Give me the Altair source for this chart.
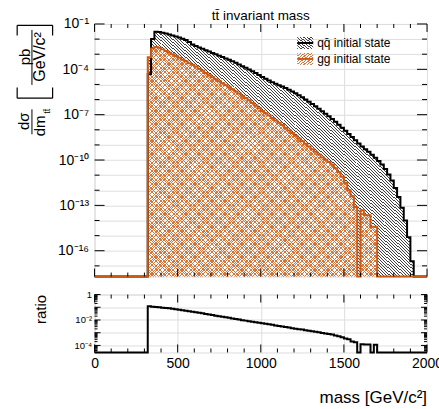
import altair as alt
import pandas as pd

FONT = "Liberation Sans"

# ---------------- data (log10 of bin contents, 20 GeV bins starting at 320 GeV) ----
BIN_WIDTH = 20
FIRST_BIN = 320
qq_log = [-4.33, -2.00, -1.52, -1.53, -1.58, -1.63, -1.69, -1.76, -1.83, -1.90,
          -1.98, -2.06, -2.20, -2.36, -2.45, -2.55, -2.64, -2.73, -2.82, -2.92,
          -3.01, -3.10, -3.19, -3.28, -3.37, -3.47, -3.57, -3.68, -3.79, -3.90,
          -4.01, -4.12, -4.24, -4.37, -4.50, -4.62, -4.74, -4.86, -4.96, -5.05,
          -5.14, -5.24, -5.35, -5.47, -5.59, -5.71, -5.85, -5.99, -6.14, -6.29,
          -6.44, -6.60, -6.77, -6.94, -7.11, -7.29, -7.47, -7.66, -7.87, -8.07,
          -8.27, -8.48, -8.69, -8.90, -9.10, -9.28, -9.46, -9.65, -9.85, -10.06,
          -10.30, -10.60, -10.95, -11.35, -11.85, -12.45, -13.15, -14.00, -15.10, -16.70]
gg_log = [-3.20, -2.62, -2.53, -2.58, -2.68, -2.79, -2.90, -3.01, -3.12, -3.23,
          -3.35, -3.47, -3.59, -3.70, -3.82, -3.96, -4.10, -4.24, -4.39, -4.53,
          -4.66, -4.79, -4.92, -5.05, -5.18, -5.31, -5.46, -5.60, -5.75, -5.90,
          -6.05, -6.22, -6.40, -6.58, -6.75, -6.90, -7.05, -7.22, -7.38, -7.53,
          -7.68, -7.86, -8.04, -8.22, -8.40, -8.58, -8.76, -8.93, -9.10, -9.28,
          -9.46, -9.64, -9.83, -9.98, -10.13, -10.30, -10.55, -10.80, -11.10, -11.50,
          -12.00, -12.40, -13.10, None, -13.32, -13.65, -13.65, -14.42, -14.42]
ratio_log = [-0.92, -0.96, -0.98, -1.00, -1.03, -1.05, -1.08, -1.12, -1.15, -1.19,
             -1.23, -1.27, -1.31, -1.36, -1.40, -1.44, -1.48, -1.52, -1.57, -1.61,
             -1.66, -1.70, -1.74, -1.79, -1.83, -1.88, -1.92, -1.97, -2.02, -2.05,
             -2.09, -2.13, -2.17, -2.22, -2.26, -2.30, -2.34, -2.38, -2.43, -2.47,
             -2.52, -2.56, -2.60, -2.64, -2.69, -2.72, -2.75, -2.80, -2.84, -2.88,
             -2.93, -2.97, -3.02, -3.06, -3.10, -3.14, -3.22, -3.28, -3.35, -3.45,
             -3.52, -3.70, -3.75, None, -3.90, -3.92, -3.92, None, -3.95]

x_tick_labels = [0, 500, 1000, 1500, 2000]
top_label_exps = [-1, -4, -7, -10, -13, -16]
top_decades = list(range(-17, 0))
ratio_label_exps = [0, -2, -4]
ratio_decades = [0, -1, -2, -3, -4]
ratio_minor_mult = [2, 3, 4, 5, 6, 7, 8, 9]
x_minor_ticks = [100, 200, 300, 400, 600, 700, 800, 900, 1100, 1200, 1300, 1400,
                 1600, 1700, 1800, 1900]

X_DOMAIN = [0, 2000]
TOP_DOMAIN = [1.95e-18, 1e-1]
RATIO_DOMAIN = [2.8e-5, 1.0]

W, H_TOP, H_RAT = 333, 253, 58
BLACK = "#000000"
ORANGE = "#cc5a14"
HATCH_ORANGE = "#d2763c"
HATCH_BLACK = "#404040"
GRID = "#dedede"
CLEAR = "rgba(255,255,255,0)"

SUP = str.maketrans("-0123456789", "⁻⁰¹²³⁴⁵⁶⁷⁸⁹")


def pow_label(e):
    return "1" if e == 0 else "10" + str(e).translate(SUP)


def label_expr(exps):
    expr = "''"
    for e in exps:
        expr = f"round(log(datum.value)/LN10) == {e} ? '{pow_label(e)}' : ({expr})"
    return expr


def vals(logs, floor, n=None):
    v = [10 ** x if x is not None else floor for x in logs]
    if n is not None:
        v = v + [floor] * (n - len(v))
    return v


def outline_df(logs, floor):
    v = vals(logs, floor)
    xs = [X_DOMAIN[0]] + [FIRST_BIN + i * BIN_WIDTH for i in range(len(v))] + \
         [FIRST_BIN + len(v) * BIN_WIDTH, X_DOMAIN[1]]
    ys = [floor] + v + [floor, floor]
    return pd.DataFrame({"x": xs, "y": ys})


def area_df(logs, floor, lower=None):
    v = vals(logs, floor)
    lo = vals(lower, floor, len(v)) if lower is not None else [floor] * len(v)
    xs = [FIRST_BIN + i * BIN_WIDTH for i in range(len(v) + 1)]
    return pd.DataFrame({"x": xs, "y": v + [v[-1]], "y2": lo + [lo[-1]]})


def hatch(color, n, frac, slope):
    stops = []
    for i in range(n):
        a, b, c = i / n, (i + frac) / n, (i + 1) / n
        stops += [{"offset": a, "color": color}, {"offset": b, "color": color},
                  {"offset": b, "color": CLEAR}, {"offset": c, "color": CLEAR}]
    if slope == "\\":
        x1, y1, x2, y2 = 0, 1, 1, 0
    else:
        x1, y1, x2, y2 = 0, 0, 1, 1
    return {"gradient": "linear", "x1": x1, "y1": y1, "x2": x2, "y2": y2, "stops": stops}


ONE = pd.DataFrame({"k": [0]})


def text(t, x, y, size, angle=0, align="center", baseline="middle", color=BLACK):
    kw = dict(text=t, font=FONT, fontSize=size, align=align, baseline=baseline, color=color)
    if angle:
        kw["angle"] = angle
    return alt.Chart(ONE).mark_text(**kw).encode(x=alt.value(x), y=alt.value(y))


def seg(x, x2, y, y2, color=BLACK, width=1.0, opacity=1.0):
    return alt.Chart(ONE).mark_rule(color=color, strokeWidth=width, strokeOpacity=opacity).encode(
        x=alt.value(x), x2=alt.value(x2), y=alt.value(y), y2=alt.value(y2))


# ---------------- shared encodings ----------------
x_top = alt.X("x:Q", scale=alt.Scale(domain=X_DOMAIN, nice=False, zero=False),
              axis=alt.Axis(values=x_tick_labels, labels=False, ticks=False, domain=False,
                            grid=True, gridColor=GRID, title=None))
y_scale_top = alt.Scale(type="log", domain=TOP_DOMAIN, nice=False, clamp=True)
y_top = alt.Y("y:Q", scale=y_scale_top,
              axis=alt.Axis(values=[10.0 ** e for e in top_decades], labelExpr=label_expr(top_label_exps),
                            ticks=False, domain=False, grid=True, gridColor=GRID, title=None,
                            labelFont=FONT, labelFontSize=14, labelColor=BLACK, labelPadding=6,
                            labelOverlap=False, labelBound=False))

x_rat = alt.X("x:Q", scale=alt.Scale(domain=X_DOMAIN, nice=False, zero=False),
              axis=alt.Axis(values=x_tick_labels, ticks=False, domain=False, grid=True, gridColor=GRID,
                            title=None, labelFont=FONT, labelFontSize=14, labelColor=BLACK,
                            labelPadding=4, labelFlush=False, labelOverlap=False, format="d"))
y_rat = alt.Y("y:Q", scale=alt.Scale(type="log", domain=RATIO_DOMAIN, nice=False, clamp=True),
              axis=alt.Axis(values=[10.0 ** e for e in ratio_decades], labelExpr=label_expr(ratio_label_exps),
                            ticks=False, domain=False, grid=True, gridColor=GRID, title=None,
                            labelFont=FONT, labelFontSize=9.5, labelColor=BLACK, labelPadding=3,
                            labelOverlap=False, labelBound=False))

floor_top = TOP_DOMAIN[0]
floor_rat = RATIO_DOMAIN[0]

# ---------------- top panel ----------------
# qq hatch only between the qq and gg curves; gg crosshatch below the gg curve
qq_area = alt.Chart(area_df(qq_log, floor_top, gg_log)).mark_area(
    interpolate="step-after", fill=hatch(HATCH_BLACK, 162, 0.33, "\\"), strokeWidth=0
).encode(x=x_top, y=y_top, y2="y2:Q")
gg_area1 = alt.Chart(area_df(gg_log, floor_top)).mark_area(
    interpolate="step-after", fill=hatch(HATCH_ORANGE, 176, 0.3, "\\"), strokeWidth=0
).encode(x=x_top, y=y_top, y2=alt.value(H_TOP))
gg_area2 = alt.Chart(area_df(gg_log, floor_top)).mark_area(
    interpolate="step-after", fill=hatch(HATCH_ORANGE, 176, 0.3, "/"), strokeWidth=0
).encode(x=x_top, y=y_top, y2=alt.value(H_TOP))

qq_line = alt.Chart(outline_df(qq_log, floor_top)).mark_line(
    interpolate="step-after", color=BLACK, strokeWidth=2).encode(x=x_top, y=y_top)
gg_line = alt.Chart(outline_df(gg_log, floor_top)).mark_line(
    interpolate="step-after", color=ORANGE, strokeWidth=2).encode(x=x_top, y=y_top)

dec_major = pd.DataFrame({"y": [10.0 ** e for e in top_label_exps]})
dec_minor = pd.DataFrame({"y": [10.0 ** e for e in top_decades if e not in top_label_exps]})
xt_major = pd.DataFrame({"x": x_tick_labels})
xt_minor = pd.DataFrame({"x": x_minor_ticks})


def yticks(df, yenc, length):
    left = alt.Chart(df).mark_rule(color=BLACK, strokeWidth=1).encode(
        x=alt.value(0), x2=alt.value(length), y=yenc)
    right = alt.Chart(df).mark_rule(color=BLACK, strokeWidth=1).encode(
        x=alt.value(W), x2=alt.value(W - length), y=yenc)
    return [left, right]


def xticks(df, xenc, h, length):
    bottom = alt.Chart(df).mark_rule(color=BLACK, strokeWidth=1).encode(
        x=xenc, y=alt.value(h), y2=alt.value(h - length))
    top = alt.Chart(df).mark_rule(color=BLACK, strokeWidth=1).encode(
        x=xenc, y=alt.value(0), y2=alt.value(length))
    return [bottom, top]


top_ticks = (yticks(dec_major, y_top, 10) + yticks(dec_minor, y_top, 5) +
             xticks(xt_major, x_top, H_TOP, 8) + xticks(xt_minor, x_top, H_TOP, 4))

# legend
leg_qq_sw = alt.Chart(ONE).mark_rect(fill=hatch(HATCH_BLACK, 9, 0.4, "\\"), strokeWidth=0).encode(
    x=alt.value(203), x2=alt.value(219), y=alt.value(13), y2=alt.value(25))
leg_gg_sw = alt.Chart(ONE).mark_rect(fill=hatch(HATCH_ORANGE, 9, 0.4, "/"), strokeWidth=0).encode(
    x=alt.value(203), x2=alt.value(219), y=alt.value(29), y2=alt.value(41))
legend = [leg_qq_sw, leg_gg_sw,
          seg(203, 219, 19, 19, BLACK, 2), seg(203, 219, 35, 35, ORANGE, 2),
          text("qq\u0304 initial state", 223, 19, 12, align="left"),
          text("gg initial state", 223, 35.5, 12, align="left")]

# y title (two stacked fractions in brackets) and plot title
ytitle = [
    text("dσ", -70.5, 97.5, 15, angle=270),
    seg(-62.7, -62.7, 85.5, 110.5, BLACK, 1),
    text("dm", -55.0, 102, 15, angle=270),
    text("tt\u0304", -48.0, 87.5, 9, angle=270),
    seg(-77.5, -42.0, 74.3, 74.3, BLACK, 1.2),
    seg(-77.5, -77.5, 63.5, 74.3, BLACK, 1.2),
    seg(-42.0, -42.0, 63.5, 74.3, BLACK, 1.2),
    text("pb", -70.0, 33, 15, angle=270),
    seg(-62.7, -62.7, 6, 61, BLACK, 1),
    text("GeV/c²", -54.5, 33, 16, angle=270),
    seg(-77.5, -42.0, 1.3, 1.3, BLACK, 1.2),
    seg(-77.5, -77.5, 1.3, 11.5, BLACK, 1.2),
    seg(-42.0, -42.0, 1.3, 11.5, BLACK, 1.2),
    text("tt\u0304 invariant mass", W / 2, -8, 13.5),
    seg(-80, -80, -20, -19, BLACK, 1, 0),
]

top = alt.layer(qq_area, gg_area1, gg_area2, qq_line, gg_line, *top_ticks, *legend, *ytitle).properties(
    width=W, height=H_TOP)

# ---------------- ratio panel ----------------
ratio_line = alt.Chart(outline_df(ratio_log, floor_rat)).mark_line(
    interpolate="step-after", color=BLACK, strokeWidth=2).encode(x=x_rat, y=y_rat)
rdec = pd.DataFrame({"y": [10.0 ** e for e in ratio_decades]})
rminor = pd.DataFrame({"y": [m * 10.0 ** e for e in range(-5, 0) for m in ratio_minor_mult
                             if RATIO_DOMAIN[0] <= m * 10.0 ** e <= RATIO_DOMAIN[1]]})
rat_ticks = (yticks(rdec, y_rat, 6) + yticks(rminor, y_rat, 3) +
             xticks(xt_major, x_rat, H_RAT, 8) + xticks(xt_minor, x_rat, H_RAT, 4))
rat_text = [
    text("ratio", -53.7, 15, 15, angle=270),
    text("mass [GeV/c²]", W, 104, 17, align="right"),
    seg(-80, -80, 0, 1, BLACK, 1, 0),
]
bottom = alt.layer(ratio_line, *rat_ticks, *rat_text).properties(width=W, height=H_RAT)

chart = alt.vconcat(top, bottom, spacing=7).properties(
    padding={"left": 13.7, "top": 2.7, "right": -5, "bottom": 0}
).configure_view(stroke=BLACK, strokeWidth=1).configure(font=FONT, background="white")

chart.save("out.html", embed_options={"renderer": "svg", "actions": False})
